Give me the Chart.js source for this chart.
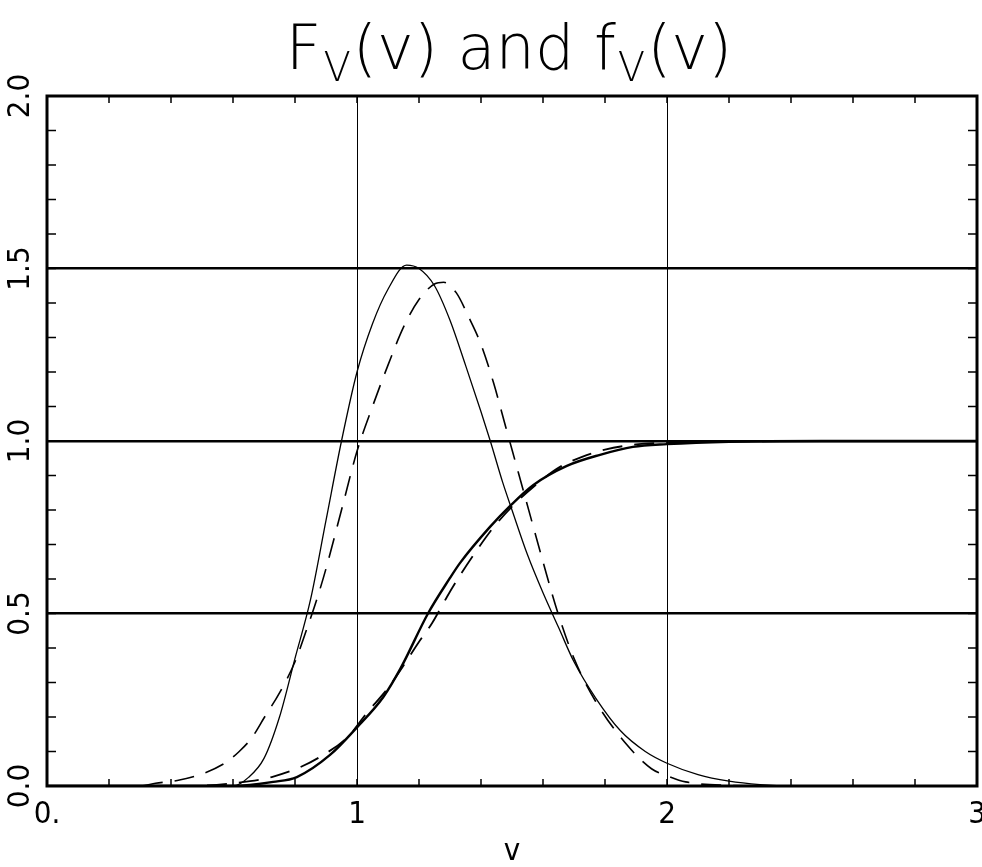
<!DOCTYPE html>
<html>
<head>
<meta charset="utf-8">
<script src="https://cdn.jsdelivr.net/npm/chart.js@4.4.1/dist/chart.umd.min.js"></script>
<style>
  html, body { margin: 0; padding: 0; background: #fff; }
  #wrap { width: 982px; height: 867px; }
</style>
</head>
<body>
<div id="wrap"><canvas id="myChart" width="982" height="867"></canvas></div>
<script>
'use strict';

// values
const pdfSolidV = [0, 0.3, 0.55, 0.6, 0.65, 0.7, 0.75, 0.8, 0.85, 0.9, 0.95, 1.0, 1.05, 1.1, 1.16, 1.2, 1.25, 1.3, 1.35, 1.4, 1.43, 1.47, 1.5, 1.55, 1.6, 1.65, 1.7, 1.77, 1.85, 1.93, 2.0, 2.1, 2.2, 2.3, 2.4, 3.0];
const pdfSolidY = [0, 0, 0, 0, 0.025, 0.08, 0.2, 0.37, 0.54, 0.77, 1.0, 1.2, 1.34, 1.44, 1.51, 1.5, 1.45, 1.35, 1.22, 1.085, 1.0, 0.88, 0.8, 0.67, 0.56, 0.46, 0.36, 0.255, 0.16, 0.1, 0.066, 0.033, 0.014, 0.004, 0, 0];

const pdfDashV = [0, 0.3, 0.35, 0.42, 0.5, 0.575, 0.62, 0.66, 0.7, 0.75, 0.8, 0.84, 0.87, 0.9, 0.95, 1.0, 1.05, 1.1, 1.15, 1.2, 1.25, 1.28, 1.32, 1.36, 1.4, 1.44, 1.48, 1.52, 1.56, 1.6, 1.645, 1.7, 1.77, 1.87, 1.95, 2.0, 2.06, 2.2, 2.4, 3.0];
const pdfDashY = [0, 0, 0.008, 0.016, 0.035, 0.067, 0.1, 0.139, 0.197, 0.27, 0.36, 0.46, 0.54, 0.63, 0.8, 0.97, 1.1, 1.22, 1.33, 1.41, 1.455, 1.46, 1.43, 1.36, 1.28, 1.17, 1.04, 0.91, 0.78, 0.65, 0.51, 0.37, 0.245, 0.12, 0.05, 0.03, 0.012, 0.002, 0, 0];

const cdfSolidV = [0, 0.6, 0.73, 0.806, 0.913, 1.0, 1.085, 1.14, 1.229, 1.3, 1.332, 1.429, 1.494, 1.568, 1.677, 1.784, 1.89, 2.0, 2.2, 2.5, 3.0];
const cdfSolidY = [0, 0, 0.012, 0.026, 0.09, 0.17, 0.258, 0.34, 0.5, 0.603, 0.646, 0.751, 0.812, 0.872, 0.928, 0.96, 0.983, 0.991, 0.998, 1.0, 1.0];

const cdfDashV = [0, 0.45, 0.655, 0.725, 0.81, 0.88, 0.97, 1.03, 1.1, 1.145, 1.197, 1.242, 1.29, 1.332, 1.387, 1.439, 1.5, 1.6, 1.655, 1.726, 1.8, 1.9, 2.0, 2.2, 3.0];
const cdfDashY = [0, 0, 0.014, 0.026, 0.052, 0.084, 0.142, 0.21, 0.284, 0.342, 0.414, 0.472, 0.548, 0.61, 0.684, 0.748, 0.81, 0.89, 0.925, 0.954, 0.975, 0.99, 0.995, 0.999, 1.0];

const xTickLabels = ['0.', '1', '2', '3'];
const yTickLabels = ['0.0', '0.5', '1.0', '1.5', '2.0'];

function pts(xs, ys) {
  let out = [];
  for (let i = 0; i < xs.length; i++) {
    out.push({x: xs[i], y: ys[i]});
  }
  return out;
}

function near(v, step) {
  return Math.abs(v / step - Math.round(v / step)) < 1e-6;
}

const labelFont = '"Liberation Sans Narrow", "DejaVu Sans Condensed", sans-serif';

// frame, inward ticks, rotated y labels and the title with subscripts
const decor = {
  id: 'decor',
  afterDraw(chart) {
    const c = chart.ctx;
    const a = chart.chartArea;
    const xs = chart.scales.x;
    const ys = chart.scales.y;
    c.save();
    c.strokeStyle = '#000';
    c.fillStyle = '#000';

    c.lineWidth = 1.5;
    c.beginPath();
    xs.ticks.forEach(t => {
      const px = xs.getPixelForValue(t.value);
      c.moveTo(px, a.bottom); c.lineTo(px, a.bottom - 7);
      c.moveTo(px, a.top); c.lineTo(px, a.top + 7);
    });
    ys.ticks.forEach(t => {
      const py = ys.getPixelForValue(t.value);
      c.moveTo(a.left, py); c.lineTo(a.left + 9, py);
      c.moveTo(a.right, py); c.lineTo(a.right - 9, py);
    });
    c.stroke();

    c.lineWidth = 3;
    c.strokeRect(a.left, a.top, a.right - a.left, a.bottom - a.top);

    c.font = '31px ' + labelFont;
    c.textAlign = 'center';
    c.textBaseline = 'middle';
    yTickLabels.forEach(lab => {
      const py = ys.getPixelForValue(parseFloat(lab));
      c.save();
      c.translate(21, py);
      c.rotate(-Math.PI / 2);
      c.fillText(lab, 0, 0);
      c.restore();
    });

    // title: F_V(v) and f_V(v)
    const big = '200 62px "DejaVu Sans", sans-serif';
    const small = '200 40px "DejaVu Sans", sans-serif';
    const parts = [['F', big, 0], ['V', small, 12], ['(v) and f', big, 0], ['V', small, 12], ['(v)', big, 0]];
    c.textAlign = 'left';
    c.textBaseline = 'alphabetic';
    let total = 0;
    parts.forEach(p => { c.font = p[1]; total += c.measureText(p[0]).width + 2; });
    let x = 510 - total / 2;
    parts.forEach(p => {
      c.font = p[1];
      c.fillText(p[0], x, 69 + p[2]);
      x += c.measureText(p[0]).width + 2;
    });
    c.restore();
  }
};

const ctx = document.getElementById('myChart').getContext('2d');
const chart = new Chart(ctx, {
  type: 'line',
  data: {
    datasets: [
      {label: 'f solid', data: pts(pdfSolidV, pdfSolidY), borderColor: '#000', borderWidth: 1.3},
      {label: 'f dashed', data: pts(pdfDashV, pdfDashY), borderColor: '#000', borderWidth: 1.6, borderDash: [20, 12]},
      {label: 'F solid', data: pts(cdfSolidV, cdfSolidY), borderColor: '#000', borderWidth: 2.4},
      {label: 'F dashed', data: pts(cdfDashV, cdfDashY), borderColor: '#000', borderWidth: 1.8, borderDash: [20, 12]}
    ]
  },
  options: {
    responsive: false,
    animation: false,
    events: [],
    elements: {
      point: {radius: 0},
      line: {cubicInterpolationMode: 'monotone', fill: false}
    },
    layout: {padding: {left: 0, right: 5, top: 96, bottom: 0}},
    plugins: {legend: {display: false}, tooltip: {enabled: false}, title: {display: false}},
    scales: {
      x: {
        type: 'linear',
        min: 0,
        max: 3,
        border: {display: false},
        grid: {
          drawTicks: false,
          lineWidth: 1,
          color: c => (c.tick && near(c.tick.value, 1) && c.tick.value > 0 && c.tick.value < 3) ? '#000' : 'rgba(0,0,0,0)'
        },
        ticks: {
          stepSize: 0.2,
          autoSkip: false,
          maxRotation: 0,
          padding: 10,
          color: '#000',
          font: {family: labelFont, size: 31},
          callback: v => near(v, 1) ? xTickLabels[Math.round(v)] : ''
        },
        title: {display: true, text: 'v', color: '#000', font: {family: labelFont, size: 31, lineHeight: 1}, padding: {top: 0, bottom: 0}},
        afterFit: s => { s.height = 81; s.paddingLeft = 0; s.paddingRight = 0; }
      },
      y: {
        min: 0,
        max: 2,
        border: {display: false},
        grid: {
          drawTicks: false,
          lineWidth: 2.4,
          color: c => (c.tick && near(c.tick.value, 0.5) && c.tick.value > 0 && c.tick.value < 2) ? '#000' : 'rgba(0,0,0,0)'
        },
        ticks: {display: false, stepSize: 0.1},
        afterFit: s => { s.width = 47; s.paddingTop = 0; s.paddingBottom = 0; }
      }
    }
  },
  plugins: [decor]
});
</script>
</body>
</html>
